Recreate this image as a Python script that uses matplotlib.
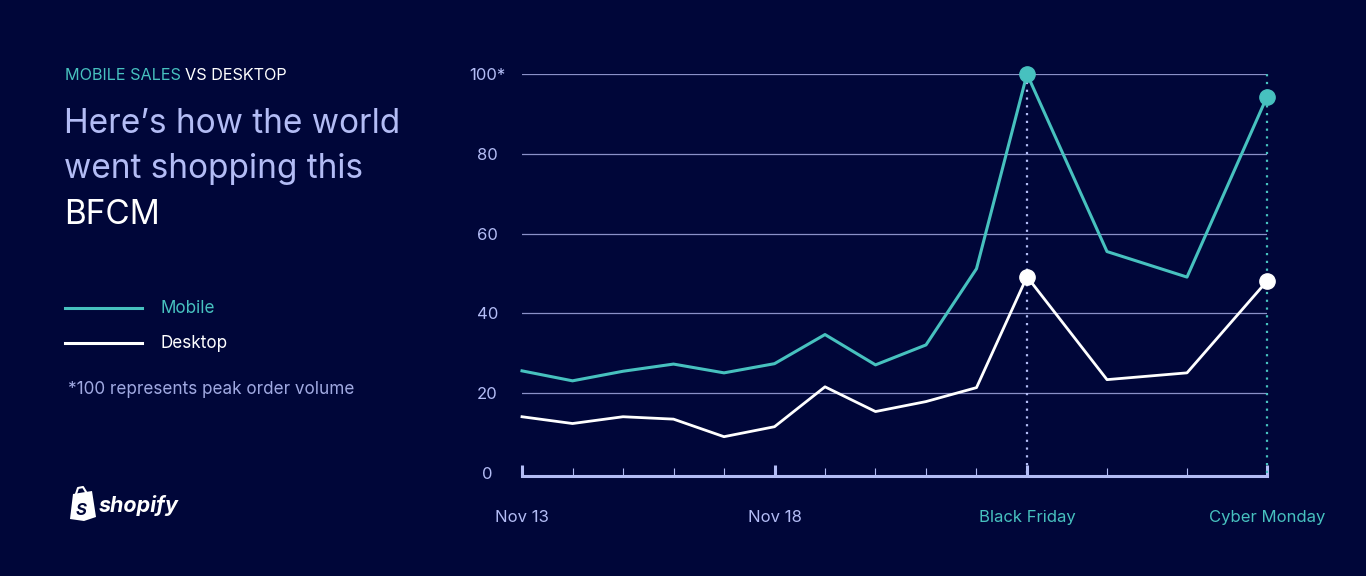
import numpy as np
import matplotlib
matplotlib.use("Agg")
import matplotlib.pyplot as plt
from matplotlib.patches import Polygon

# colours (shopify polaris palette)
bg = "#000639"
teal = "#47C1BF"
lav = "#B3BCF5"
grid_col = "#8A90C8"

# data: day index 0 = Nov 13 ... 13 = Nov 26 (Cyber Monday)
days = list(range(14))
mobile = [25.6, 23.1, 25.5, 27.3, 25.1, 27.4, 34.7, 27.1, 32.1, 51.2, 100, 55.5, 49.1, 94.3]
desktop = [14.1, 12.4, 14.1, 13.5, 9.1, 11.6, 21.6, 15.4, 17.9, 21.4, 49.2, 23.4, 25.1, 48.1]
peak_days = [10, 13]
major_days = [0, 5, 10, 13]
major_labels = ["Nov 13", "Nov 18", "Black Friday", "Cyber Monday"]
major_colors = [lav, lav, teal, teal]
y_ticks = [0, 20, 40, 60, 80, 100]
y_labels = ["0", "20", "40", "60", "80", "100*"]

plt.rcParams['font.family'] = ['Inter', 'DejaVu Sans']

W, H = 1366, 576
fig = plt.figure(figsize=(W / 100, H / 100), dpi=100)
fig.patch.set_facecolor(bg)


def px(x, y):
    # pixel position -> figure fraction
    return x / W, 1 - y / H


# days after black friday are drawn wider apart
stretch = 80 / 50.5


def fwd(x):
    x = np.asarray(x, dtype=float)
    return np.where(x <= 10, x, 10 + (x - 10) * stretch)


def inv(x):
    x = np.asarray(x, dtype=float)
    return np.where(x <= 10, x, 10 + (x - 10) / stretch)


ax = fig.add_axes([522 / W, 103 / H, 745 / W, 399 / H])
ax.set_facecolor(bg)
ax.set_xscale('function', functions=(fwd, inv))
ax.set_xlim(0, 13)
ax.set_ylim(0, 100)

# grid lines
for v in y_ticks[1:]:
    ax.axhline(v, color=grid_col, lw=0.9, zorder=1)

# dotted markers for the two big days
ax.plot([10, 10], [0, 100], color=lav, lw=1.6, ls=(0, (1, 2.5)), zorder=2, clip_on=False)
ax.plot([13, 13], [0, 100], color=teal, lw=1.6, ls=(0, (1, 2.5)), zorder=2, clip_on=False)

ax.plot(days, desktop, color="white", lw=2.0, marker="o", markevery=peak_days,
        markersize=11, zorder=4, clip_on=False)
ax.plot(days, mobile, color=teal, lw=2.2, marker="o", markevery=peak_days,
        markersize=11, zorder=5, clip_on=False)

# axes styling
for s in ["top", "left", "right"]:
    ax.spines[s].set_visible(False)
ax.spines["bottom"].set_color(lav)
ax.spines["bottom"].set_linewidth(2.2)
ax.spines["bottom"].set_position(("outward", 2.5))

ax.set_xticks(major_days)
ax.set_xticklabels(major_labels)
ax.set_xticks([d for d in days if d not in major_days], minor=True)
ax.tick_params(axis="x", which="major", direction="in", length=8, width=2.2,
               color=lav, pad=24, labelsize=12)
ax.tick_params(axis="x", which="minor", direction="in", length=6, width=0.8,
               color=lav)
for lbl, c in zip(ax.get_xticklabels(), major_colors):
    lbl.set_color(c)

ax.set_yticks(y_ticks)
ax.set_yticklabels(y_labels)
ax.tick_params(axis="y", length=0, pad=25, labelsize=12, labelcolor=lav)
for lbl in ax.get_yticklabels():
    lbl.set_ha("center")

# left hand text block
t = fig.text(*px(65, 80), "MOBILE SALES", color=teal, fontsize=11.7, va="baseline")
fig.canvas.draw()
bb = t.get_window_extent()
fig.text(bb.x1 / W + 4 / W, 1 - 80 / H, "VS DESKTOP", color="white", fontsize=11.7, va="baseline")

fig.text(*px(64, 133), "Here\u2019s how the world", color=lav, fontsize=24, va="baseline")
fig.text(*px(64, 178), "went shopping this", color=lav, fontsize=24, va="baseline")
fig.text(*px(64, 224), "BFCM", color="white", fontsize=24, va="baseline")

# legend
fig.add_artist(plt.Line2D([65 / W, 142 / W], [1 - 308 / H, 1 - 308 / H], color=teal, lw=2.2))
fig.add_artist(plt.Line2D([65 / W, 142 / W], [1 - 343 / H, 1 - 343 / H], color="white", lw=2.2))
fig.text(*px(161, 313), "Mobile", color=teal, fontsize=12.3, va="baseline")
fig.text(*px(161, 348), "Desktop", color="white", fontsize=12.3, va="baseline")

fig.text(*px(68, 394), "*100 represents peak order volume", color=lav, alpha=0.9,
         fontsize=12.3, va="baseline")

# shopify logo: bag + word mark
bag = Polygon([px(70, 519), px(73, 494), px(92, 491), px(96, 517), px(84, 521)],
              closed=True, facecolor="white", edgecolor="none")
fig.add_artist(bag)
fig.add_artist(plt.Line2D([76 / W, 78 / W, 83 / W, 86 / W],
                          [1 - 494 / H, 1 - 488 / H, 1 - 487 / H, 1 - 492 / H],
                          color="white", lw=1.5))
fig.text(*px(76, 515), "S", color=bg, fontsize=12, fontweight="bold",
         fontstyle="italic", va="baseline")
fig.text(*px(99, 512), "shopify", color="white", fontsize=15.5, fontweight="bold",
         fontstyle="italic", va="baseline")

fig.savefig("out.png", dpi=100, facecolor=bg)
